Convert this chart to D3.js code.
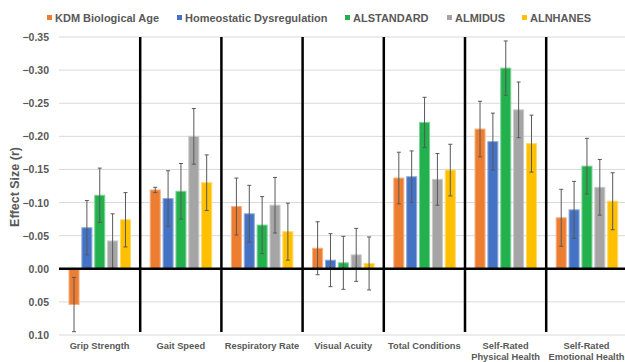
<!DOCTYPE html>
<html>
<head>
<meta charset="utf-8">
<script src="https://cdn.jsdelivr.net/npm/d3@7"></script>
<style>
  body { margin: 0; background: #fff; }
  text { font-family: "Liberation Sans", Arial, sans-serif; font-weight: bold; fill: #595959; }
</style>
</head>
<body>
<script>
// categories and series
var categories = ["Grip Strength", "Gait Speed", "Respiratory Rate", "Visual Acuity",
    "Total Conditions", "Self-Rated Physical Health", "Self-Rated Emotional Health"];
var series = ["KDM Biological Age", "Homeostatic Dysregulation", "ALSTANDARD", "ALMIDUS", "ALNHANES"];
var colors = ["#ED7D31", "#4472C4", "#22B14C", "#A5A5A5", "#FFC000"];
var strokes = ["#F4B183", "#8FAADC", "#7ED398", "#C9C9C9", "#FFD966"];

// effect sizes (r), one array per series, in category order
var kdm   = [0.054, -0.119, -0.094, -0.031, -0.137, -0.211, -0.077];
var hd    = [-0.062, -0.106, -0.083, -0.013, -0.139, -0.192, -0.089];
var alstd = [-0.111, -0.117, -0.066, -0.009, -0.221, -0.303, -0.155];
var almid = [-0.042, -0.200, -0.096, -0.021, -0.135, -0.240, -0.123];
var alnh  = [-0.074, -0.130, -0.056, -0.008, -0.149, -0.189, -0.102];

// error bar half widths
var kdmErr   = [0.041, 0.004, 0.043, 0.040, 0.039, 0.042, 0.043];
var hdErr    = [0.041, 0.042, 0.043, 0.040, 0.039, 0.043, 0.043];
var alstdErr = [0.041, 0.042, 0.043, 0.040, 0.038, 0.041, 0.042];
var almidErr = [0.041, 0.042, 0.042, 0.040, 0.039, 0.042, 0.042];
var alnhErr  = [0.041, 0.042, 0.043, 0.040, 0.039, 0.043, 0.043];

var yTicks = [-0.35, -0.30, -0.25, -0.20, -0.15, -0.10, -0.05, 0.00, 0.05, 0.10];

var values = [kdm, hd, alstd, almid, alnh];
var errors = [kdmErr, hdErr, alstdErr, almidErr, alnhErr];

var w = 625, h = 362;

var svg = d3.select("body").append("svg")
    .attr("width", w)
    .attr("height", h);

var y = d3.scaleLinear().domain([0.10, -0.35]).range([335, 37]);
var x0 = d3.scaleBand().domain(categories).range([59, 627.4]);
var x1 = d3.scaleBand().domain(series).range([10, 71.5]).paddingInner(0.22);

// gridlines
svg.selectAll("line.grid")
    .data(yTicks)
    .enter()
    .append("line")
    .attr("class", "grid")
    .attr("x1", 59).attr("x2", w)
    .attr("y1", function(d) { return y(d); })
    .attr("y2", function(d) { return y(d); })
    .attr("stroke", "#D9D9D9")
    .attr("stroke-width", 1);

// tick labels
svg.selectAll("text.tick")
    .data(yTicks)
    .enter()
    .append("text")
    .attr("class", "tick")
    .attr("x", 49)
    .attr("y", function(d) { return y(d) + 4; })
    .attr("text-anchor", "end")
    .style("font-size", "10.5px")
    .text(function(d) { return d3.format(".2f")(d); });

// axis title
svg.append("text")
    .attr("transform", "translate(19,187) rotate(-90)")
    .attr("text-anchor", "middle")
    .style("font-size", "12.5px")
    .text("Effect Size (r)");

// flatten the data for bars
var rows = [];
categories.forEach(function(c, ci) {
    series.forEach(function(s, si) {
        rows.push({cat: c, ser: s, si: si, v: values[si][ci], e: errors[si][ci]});
    });
});

svg.selectAll("rect.bar")
    .data(rows)
    .enter()
    .append("rect")
    .attr("class", "bar")
    .attr("x", function(d) { return x0(d.cat) + x1(d.ser); })
    .attr("width", x1.bandwidth())
    .attr("y", function(d) { return Math.min(y(d.v), y(0)); })
    .attr("height", function(d) { return Math.abs(y(d.v) - y(0)); })
    .attr("fill", function(d) { return colors[d.si]; })
    .attr("stroke", function(d) { return strokes[d.si]; })
    .attr("stroke-width", 1);

// error bars
var eb = svg.selectAll("g.err")
    .data(rows)
    .enter()
    .append("g")
    .attr("class", "err")
    .attr("stroke", "#595959")
    .attr("stroke-width", 1);

eb.append("line")
    .attr("x1", function(d) { return x0(d.cat) + x1(d.ser) + x1.bandwidth() / 2; })
    .attr("x2", function(d) { return x0(d.cat) + x1(d.ser) + x1.bandwidth() / 2; })
    .attr("y1", function(d) { return y(d.v - d.e); })
    .attr("y2", function(d) { return y(d.v + d.e); });

[-1, 1].forEach(function(sign) {
    eb.append("line")
        .attr("x1", function(d) { return x0(d.cat) + x1(d.ser) + x1.bandwidth() / 2 - 2; })
        .attr("x2", function(d) { return x0(d.cat) + x1(d.ser) + x1.bandwidth() / 2 + 2; })
        .attr("y1", function(d) { return y(d.v + sign * d.e); })
        .attr("y2", function(d) { return y(d.v + sign * d.e); });
});

// zero line
svg.append("line")
    .attr("x1", 59).attr("x2", w)
    .attr("y1", y(0)).attr("y2", y(0))
    .attr("stroke", "#000")
    .attr("stroke-width", 2.5);

// separators between categories
svg.selectAll("line.sep")
    .data(categories.slice(1))
    .enter()
    .append("line")
    .attr("class", "sep")
    .attr("x1", function(d) { return x0(d); })
    .attr("x2", function(d) { return x0(d); })
    .attr("y1", y(-0.35))
    .attr("y2", y(0.10) - 3)
    .attr("stroke", "#000")
    .attr("stroke-width", 2.5);

// category labels, split on two lines where needed
var labels = svg.selectAll("text.cat")
    .data(categories)
    .enter()
    .append("text")
    .attr("class", "cat")
    .attr("text-anchor", "middle")
    .style("font-size", "9.3px");

labels.each(function(d) {
    var t = d3.select(this);
    var cx = Math.min(x0(d) + x0.bandwidth() / 2, 586.5);
    var parts = d.indexOf("Self-Rated") === 0 ? ["Self-Rated", d.slice(11)] : [d];
    parts.forEach(function(p, i) {
        t.append("tspan")
            .attr("x", cx)
            .attr("y", 349 + i * 11)
            .text(p);
    });
});

// legend
var legX = [47, 177, 345, 447, 522];
var leg = svg.selectAll("g.leg")
    .data(series)
    .enter()
    .append("g")
    .attr("class", "leg")
    .attr("transform", function(d, i) { return "translate(" + legX[i] + ",18)"; });

leg.append("rect")
    .attr("x", 0).attr("y", -3)
    .attr("width", 5).attr("height", 5)
    .attr("fill", function(d, i) { return colors[i]; });

leg.append("text")
    .attr("x", 8)
    .attr("y", 3.5)
    .style("font-size", "11px")
    .text(function(d) { return d; });
</script>
</body>
</html>
